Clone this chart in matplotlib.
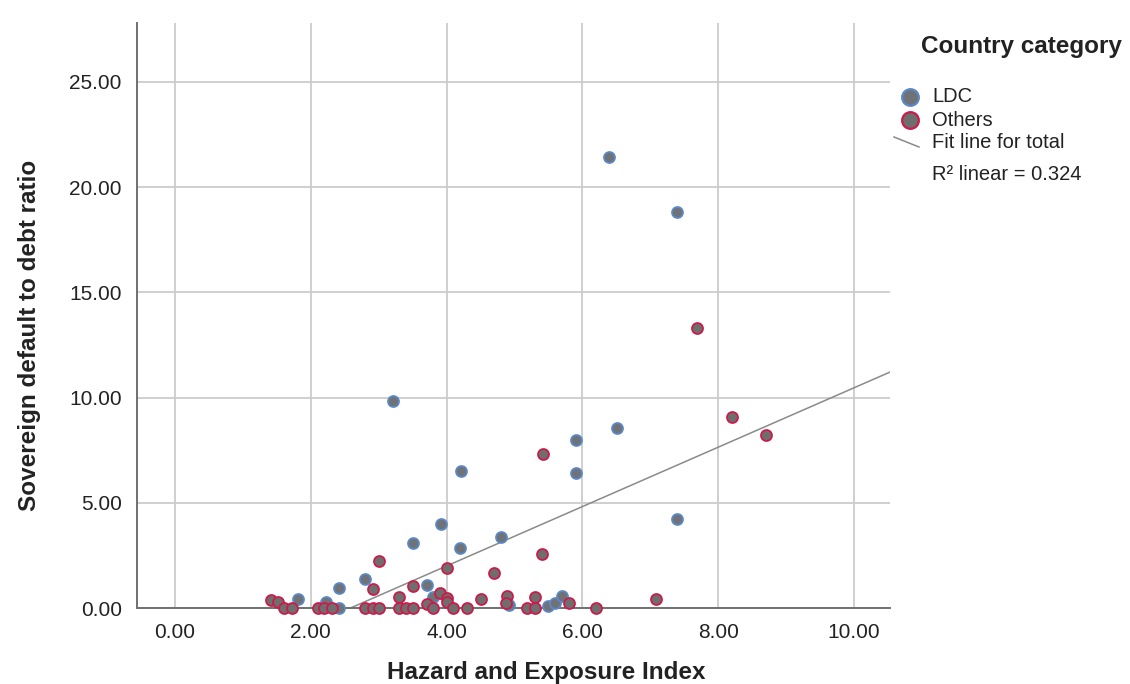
import matplotlib
matplotlib.use('Agg')
import matplotlib.pyplot as plt
from matplotlib.lines import Line2D

plt.rcParams['font.family'] = ['Liberation Sans', 'DejaVu Sans']

# LDC countries
ldc_x = [6.39, 7.39, 3.21, 6.51, 5.91, 4.21, 5.91, 7.40, 3.91, 3.51, 4.80, 4.20,
         2.80, 3.71, 2.41, 3.80, 1.81, 2.22, 2.41, 5.50, 5.60, 5.70, 4.92]
ldc_y = [21.43, 18.81, 9.82, 8.55, 7.97, 6.52, 6.40, 4.21, 3.98, 3.10, 3.39, 2.84,
         1.40, 1.09, 0.94, 0.54, 0.42, 0.30, 0.02, 0.10, 0.25, 0.55, 0.14]

# other countries
oth_x = [7.69, 8.20, 8.70, 5.42, 5.40, 3.00, 4.00, 4.70, 3.50, 2.91, 3.90, 3.30,
         4.00, 4.00, 4.50, 4.89, 4.87, 5.30, 5.80, 7.09, 1.41, 1.51, 3.71,
         1.61, 1.72, 2.10, 2.20, 2.31, 2.80, 2.91, 3.00, 3.30, 3.40, 3.51, 3.80,
         4.10, 4.30, 5.19, 5.30, 6.20]
oth_y = [13.30, 9.09, 8.20, 7.30, 2.56, 2.23, 1.89, 1.66, 1.05, 0.92, 0.69, 0.54,
         0.46, 0.30, 0.41, 0.56, 0.22, 0.54, 0.26, 0.41, 0.37, 0.30, 0.19,
         0.02, 0.02, 0.02, 0.02, 0.02, 0.02, 0.02, 0.02, 0.02, 0.02, 0.02, 0.02,
         0.02, 0.02, 0.02, 0.02, 0.02]

# fit line for total
fit_slope = 1.411
fit_intercept = -3.646
r2 = 0.324

x_ticks = [0, 2, 4, 6, 8, 10]
y_ticks = [0, 5, 10, 15, 20, 25]

ldc_face, ldc_edge = '#6f7378', '#5b88c6'
oth_face, oth_edge = '#6e6e6e', '#cc1a4a'

fig = plt.figure(figsize=(11.3, 6.84), dpi=100)
ax = fig.add_axes([137/1130, 1 - 608/684, (890-137)/1130, (608-23)/684])

ax.set_xlim(-0.56, 10.53)
ax.set_ylim(0, 27.8)
ax.set_xticks(x_ticks)
ax.set_yticks(y_ticks)
ax.set_xticklabels(['{:.2f}'.format(v) for v in x_ticks])
ax.set_yticklabels(['{:.2f}'.format(v) for v in y_ticks])
ax.tick_params(length=0, labelsize=15, colors='#222222')
ax.tick_params(axis='y', pad=11)
ax.tick_params(axis='x', pad=11)
ax.grid(True, color='#cccccc', linewidth=1.3)
ax.set_axisbelow(True)
for s in ['top', 'right']:
	ax.spines[s].set_visible(False)
for s in ['left', 'bottom']:
	ax.spines[s].set_color('#707070')
	ax.spines[s].set_linewidth(1.4)

x0 = -fit_intercept / fit_slope
x1 = 10.53
ax.plot([x0, x1], [fit_slope*x0 + fit_intercept, fit_slope*x1 + fit_intercept],
        color='#8a8a8a', linewidth=1.1, zorder=2)

ax.scatter(ldc_x, ldc_y, s=62, facecolor=ldc_face, edgecolor=ldc_edge,
           linewidth=1.3, zorder=3, clip_on=False)
ax.scatter(oth_x, oth_y, s=62, facecolor=oth_face, edgecolor=oth_edge,
           linewidth=1.3, zorder=4, clip_on=False)

fig.text(30/1130, 1 - 335/684, 'Sovereign default to debt ratio', rotation=90,
         ha='center', va='center', fontsize=17.5, fontweight='bold', color='#222222')
fig.text(546/1130, 1 - 672/684, 'Hazard and Exposure Index',
         ha='center', va='center', fontsize=17.5, fontweight='bold', color='#222222')

# legend
fig.text(921/1130, 1 - 47/684, 'Country category', ha='left', va='center',
         fontsize=17.5, fontweight='bold', color='#222222')
fig.add_artist(Line2D([910/1130], [1 - 97/684], marker='o', markersize=12,
                      markerfacecolor=ldc_face, markeredgecolor=ldc_edge,
                      markeredgewidth=1.6, linestyle='none', transform=fig.transFigure))
fig.add_artist(Line2D([910/1130], [1 - 120/684], marker='o', markersize=12,
                      markerfacecolor=oth_face, markeredgecolor=oth_edge,
                      markeredgewidth=1.6, linestyle='none', transform=fig.transFigure))
fig.add_artist(Line2D([894/1130, 919/1130], [1 - 137/684, 1 - 147/684],
                      color='#8a8a8a', linewidth=1.1, transform=fig.transFigure))
fig.text(932/1130, 1 - 97/684, 'LDC', ha='left', va='center', fontsize=14.5, color='#222222')
fig.text(932/1130, 1 - 120/684, 'Others', ha='left', va='center', fontsize=14.5, color='#222222')
fig.text(932/1130, 1 - 143/684, 'Fit line for total', ha='left', va='center',
         fontsize=14.5, color='#222222')
fig.text(932/1130, 1 - 174/684, 'R\u00b2 linear = {:.3f}'.format(r2), ha='left', va='center',
         fontsize=14.5, color='#222222')

fig.savefig('out.png', dpi=100)
